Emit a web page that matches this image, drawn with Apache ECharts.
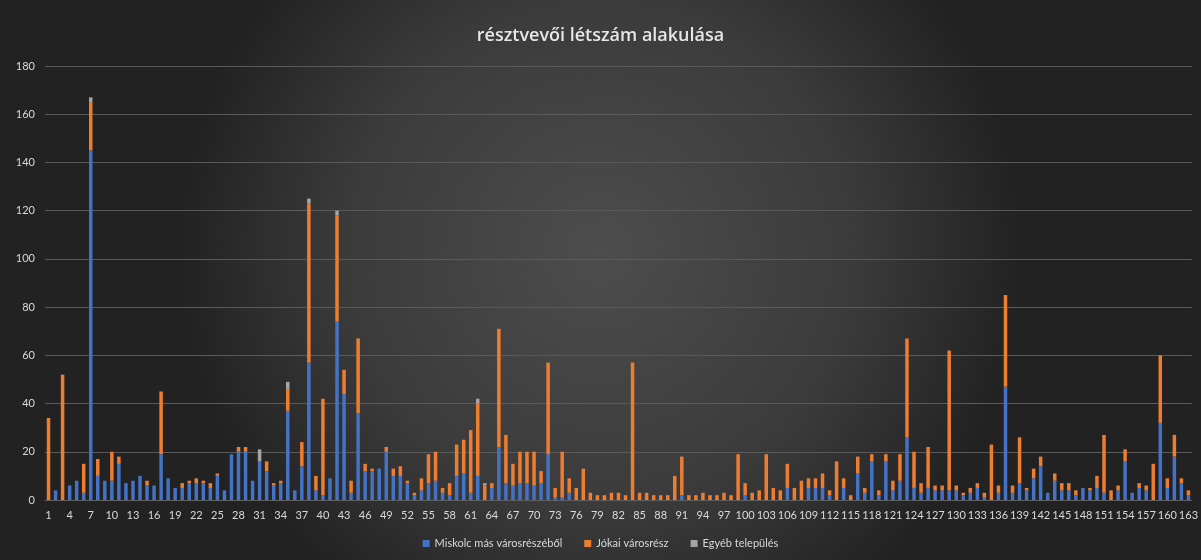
<!DOCTYPE html>
<html>
<head>
<meta charset="utf-8">
<script src="https://cdn.jsdelivr.net/npm/echarts@6/dist/echarts.min.js"></script>
<style>
  html, body { margin: 0; padding: 0; background: #2b2b2b; }
  #main { width: 1201px; height: 560px; }
</style>
</head>
<body>
<div id="main"></div>
<script>
// alkalmak 1..163
const categories = [];
for (let i = 1; i <= 163; i++) categories.push(String(i));

// Miskolc más városrészéből
const miskolc = [
  0, 4, 0, 6, 8, 3, 145, 10, 8, 8, 15, 7, 8, 10, 6, 6, 19, 9, 5, 5,
  7, 7, 7, 5, 10, 4, 19, 20, 20, 8, 16, 12, 6, 7, 37, 4, 14, 57, 4, 2,
  9, 74, 44, 3, 36, 12, 12, 13, 20, 10, 10, 7, 2, 4, 7, 8, 3, 2, 10, 11,
  3, 10, 0, 5, 22, 7, 6, 7, 7, 6, 7, 19, 1, 1, 3, 0, 0, 0, 0, 0,
  0, 0, 0, 0, 0, 0, 0, 0, 0, 0, 2, 0, 0, 0, 0, 0, 0, 0, 0, 2,
  0, 0, 0, 0, 0, 5, 0, 0, 5, 5, 5, 2, 0, 5, 0, 11, 3, 16, 2, 16,
  4, 8, 26, 5, 3, 5, 4, 4, 4, 4, 2, 3, 5, 1, 0, 3, 47, 3, 7, 4,
  9, 14, 3, 8, 4, 4, 2, 5, 4, 5, 3, 0, 4, 16, 3, 5, 4, 0, 32, 5,
  18, 7, 2
];

// Jókai városrész
const jokai = [
  34, 0, 52, 0, 0, 12, 20, 7, 0, 12, 3, 0, 0, 0, 2, 0, 26, 0, 0, 2,
  1, 2, 1, 2, 1, 0, 0, 2, 2, 0, 0, 4, 1, 1, 9, 0, 10, 66, 6, 40,
  0, 44, 10, 5, 31, 3, 1, 0, 2, 3, 4, 1, 1, 5, 12, 12, 2, 5, 13, 14,
  26, 30, 6, 2, 49, 20, 9, 13, 13, 14, 5, 38, 4, 19, 6, 5, 13, 3, 2, 2,
  3, 3, 2, 57, 3, 3, 2, 2, 2, 10, 16, 2, 2, 3, 2, 2, 3, 2, 19, 5,
  3, 4, 19, 5, 4, 10, 5, 8, 4, 4, 6, 2, 16, 4, 2, 7, 2, 3, 2, 3,
  4, 11, 41, 15, 4, 17, 2, 2, 58, 2, 1, 2, 2, 2, 23, 3, 38, 3, 19, 1,
  4, 4, 0, 3, 3, 3, 2, 0, 1, 5, 24, 4, 2, 5, 0, 2, 2, 15, 28, 4,
  9, 2, 2
];

// Egyéb település
const egyeb = new Array(163).fill(0);
egyeb[6] = 2;   // 7.
egyeb[30] = 5;  // 31.
egyeb[34] = 3;  // 35.
egyeb[37] = 2;  // 38.
egyeb[41] = 2;  // 42.
egyeb[61] = 2;  // 62.
egyeb[62] = 1;  // 63.

const yTicks = { min: 0, max: 180, interval: 20 };

var myChart = echarts.init(document.getElementById('main'));

const labelColor = '#d9d9d9';
const fontFam = 'Lato, "Open Sans", sans-serif';

function barSeries(name, data, color) {
  return {
    name: name,
    type: 'bar',
    stack: 'total',
    data: data,
    barWidth: 3.5,
    itemStyle: { color: color },
    animation: false
  };
}

let option = {
  backgroundColor: {
    type: 'radial', x: 0.5, y: 0.45, r: 0.75,
    colorStops: [
      { offset: 0, color: '#4d4d4d' },
      { offset: 0.6, color: '#3b3b3b' },
      { offset: 1, color: '#222222' }
    ]
  },
  title: {
    text: 'résztvevői létszám alakulása',
    left: 'center',
    top: 22,
    textStyle: {
      color: '#e6e6e6',
      fontFamily: '"Open Sans", sans-serif',
      fontSize: 18,
      fontWeight: 600
    }
  },
  legend: {
    bottom: 6,
    left: 'center',
    itemWidth: 7,
    itemHeight: 7,
    itemGap: 22,
    icon: 'rect',
    textStyle: { color: labelColor, fontFamily: fontFam, fontSize: 11 },
    data: ['Miskolc más városrészéből', 'Jókai városrész', 'Egyéb település']
  },
  grid: {
    left: 45,
    right: 7,
    top: 66,
    bottom: 60,
    containLabel: false
  },
  xAxis: {
    type: 'category',
    data: categories,
    axisTick: { show: false },
    axisLine: { show: true, lineStyle: { color: '#5f5f5f' } },
    axisLabel: {
      interval: 2,
      color: labelColor,
      fontFamily: fontFam,
      fontSize: 11,
      margin: 10
    }
  },
  yAxis: {
    type: 'value',
    min: yTicks.min,
    max: yTicks.max,
    interval: yTicks.interval,
    axisLine: { show: false },
    axisTick: { show: false },
    axisLabel: { color: labelColor, fontFamily: fontFam, fontSize: 11, margin: 10 },
    splitLine: { lineStyle: { color: '#5a5a5a', width: 1 } }
  },
  series: [
    barSeries('Miskolc más városrészéből', miskolc, '#4472C4'),
    barSeries('Jókai városrész', jokai, '#ED7D31'),
    barSeries('Egyéb település', egyeb, '#A5A5A5')
  ]
};

myChart.setOption(option);
</script>
</body>
</html>
